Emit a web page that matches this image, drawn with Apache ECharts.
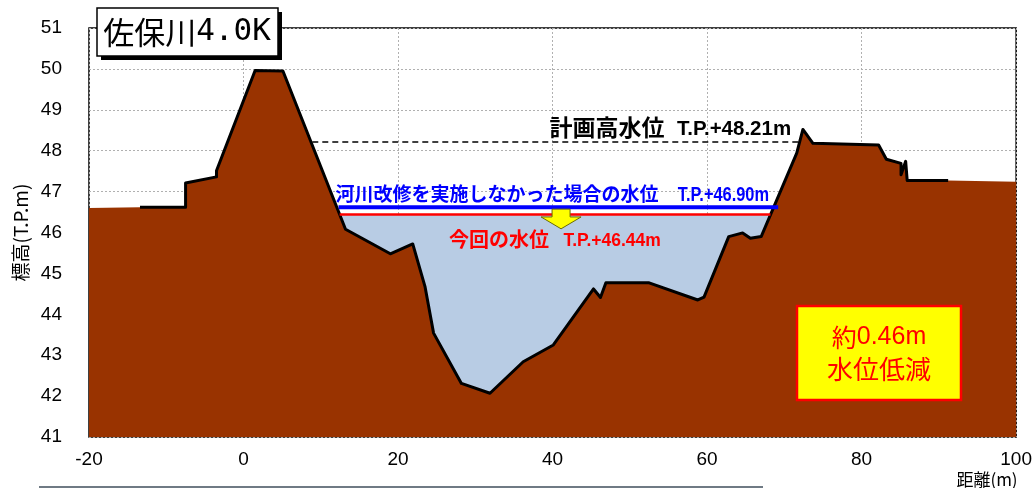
<!DOCTYPE html>
<html>
<head>
<meta charset="utf-8">
<script src="https://cdn.jsdelivr.net/npm/echarts@6/dist/echarts.min.js"></script>
<style>
  html, body { margin: 0; padding: 0; background: #fff; }
  #main { width: 1035px; height: 488px; }
</style>
</head>
<body>
<div id="main"></div>
<script>
// 横断面（距離, 標高）
const groundFill = [
  [-20, 46.60], [-13.4, 46.62], [-7.5, 46.62], [-7.5, 47.21], [-3.5, 47.36], [-3.5, 47.51],
  [1.5, 49.96], [5.1, 49.95], [13.2, 46.08], [19.0, 45.48], [21.9, 45.72], [23.5, 44.67],
  [24.6, 43.54], [28.2, 42.31], [31.9, 42.07], [36.2, 42.84], [40.1, 43.25], [45.3, 44.62],
  [46.2, 44.41], [46.9, 44.77], [52.5, 44.77], [58.8, 44.35], [59.6, 44.42], [62.8, 45.90],
  [64.6, 45.99], [65.6, 45.86], [67.0, 45.90], [71.6, 47.94], [72.4, 48.52], [72.6, 48.55],
  [73.7, 48.18], [82.2, 48.14], [83.2, 47.79], [85.1, 47.69], [85.1, 47.41], [85.7, 47.74],
  [85.9, 47.27], [91.2, 47.27], [91.2, 47.24], [100, 47.24]
];
// 黒い地盤線は -13.4m から 91.2m まで
const groundLine = groundFill.filter(p => p[0] >= -13.4 && p[0] <= 91.2 && !(p[0] === 91.2 && p[1] === 47.24));

const hwl = 48.21;         // 計画高水位
const hwlRange = [8.9, 72.2];
const noWorkLevel = 46.62; // 河川改修なしの水位（描画位置）
const noWorkRange = [12.3, 69.2];
const nowLevel = 46.44;    // 今回の水位
const nowRange = [12.44, 68.2];

const xTicks = { min: -20, max: 100, interval: 20 };
const yTicks = { min: 41, max: 51, interval: 1 };

const jp = '"Noto Sans CJK JP", "Liberation Sans", sans-serif';
const num = '"Liberation Sans", sans-serif';
const latin = '"Liberation Sans", sans-serif';

const chart = echarts.init(document.getElementById('main'));

const flat = (range, y) => range.map(x => [x, y]);

chart.setOption({
  animation: false,
  grid: {
    left: 89, right: 16, top: 28, bottom: 51,
    show: true, borderColor: '#000', borderWidth: 1.5, backgroundColor: '#fff'
  },
  xAxis: {
    type: 'value', min: xTicks.min, max: xTicks.max, interval: xTicks.interval,
    axisLine: { show: false }, axisTick: { show: false },
    axisLabel: { color: '#000', fontSize: 19, fontFamily: num, margin: 13 },
    splitLine: { show: true, lineStyle: { color: '#b0b0b0', type: [2, 2], width: 1 } }
  },
  yAxis: {
    type: 'value', min: yTicks.min, max: yTicks.max, interval: yTicks.interval,
    name: '標高(T.P.m)', nameLocation: 'middle', nameRotate: 90, nameGap: 58,
    nameTextStyle: { color: '#000', fontSize: 19, fontFamily: jp },
    axisLine: { show: false }, axisTick: { show: false },
    axisLabel: { color: '#000', fontSize: 19, fontFamily: num, margin: 27 },
    splitLine: { show: true, lineStyle: { color: '#b0b0b0', type: [2, 2], width: 1 } }
  },
  series: [
    {
      name: 'water', type: 'line', z: 1, symbol: 'none',
      data: flat(nowRange, nowLevel),
      lineStyle: { width: 0 },
      areaStyle: { color: '#b8cce4', opacity: 1, origin: 'start' }
    },
    {
      name: 'groundFill', type: 'line', z: 2, symbol: 'none',
      data: groundFill,
      lineStyle: { width: 0 },
      areaStyle: { color: '#993300', opacity: 1, origin: 'start' }
    },
    {
      name: 'groundLine', type: 'line', z: 3, symbol: 'none',
      data: groundLine,
      lineStyle: { color: '#000', width: 3, join: 'round' }
    },
    {
      name: 'now', type: 'line', z: 4, symbol: 'none',
      data: flat(nowRange, nowLevel),
      lineStyle: { color: '#ff0000', width: 2.5 }
    },
    {
      name: 'nowork', type: 'line', z: 4, symbol: 'none',
      data: flat(noWorkRange, noWorkLevel),
      lineStyle: { color: '#0000ff', width: 4 }
    },
    {
      name: 'hwl', type: 'line', z: 4, symbol: 'none',
      data: flat(hwlRange, hwl),
      lineStyle: { color: '#000', width: 1.5, type: [6, 4] }
    }
  ]
});

const px = (x, y) => chart.convertToPixel({ gridIndex: 0 }, [x, y]);

// ラベルの位置（データ座標で指定）
const hwlJp = px(54.5, 48.58);
const hwlLt = px(56.1, 48.52);
const noWorkJp = px(11.9, 46.94);
const noWorkLt = px(56.2, 46.90);
const nowJp = px(26.6, 45.84);
const nowLt = px(41.4, 45.80);
const arrowTop = px(41.1, noWorkLevel);
const arrowHead = px(41.1, 46.38);
const arrowTip = px(41.1, 46.09);
const cx = arrowTop[0];

function label(pos, text, opt) {
  return {
    type: 'text', x: pos[0], y: pos[1], z: 110,
    scaleX: opt.scaleX || 1,
    style: {
      text: text, align: opt.align || 'left', verticalAlign: 'middle',
      fontSize: opt.size, fontFamily: opt.font, fontWeight: 'bold', fill: opt.color
    }
  };
}

chart.setOption({
  graphic: [
    // タイトル枠
    { type: 'rect', shape: { x: 101, y: 12, width: 181, height: 48 }, style: { fill: '#000' }, z: 100 },
    { type: 'rect', shape: { x: 97, y: 8, width: 181, height: 48 }, style: { fill: '#fff', stroke: '#000', lineWidth: 1.5 }, z: 101 },
    {
      type: 'text', x: 187, y: 32, z: 102,
      style: {
        text: '{a|佐保川}{b|4.0K}', align: 'center', verticalAlign: 'middle',
        rich: {
          a: { fontSize: 31, fontFamily: jp, fill: '#000' },
          b: { fontSize: 31, fontFamily: '"DejaVu Sans Mono", monospace', fill: '#000' }
        }
      }
    },
    // 水位ラベル
    label(hwlJp, '計画高水位', { align: 'right', size: 23, font: jp, color: '#000' }),
    label(hwlLt, 'T.P.+48.21m', { size: 20.5, font: latin, color: '#000' }),
    label(noWorkJp, '河川改修を実施しなかった場合の水位', { size: 19, font: jp, color: '#0000ff' }),
    label(noWorkLt, 'T.P.+46.90m', { size: 20, font: latin, color: '#0000ff', scaleX: 0.82 }),
    label(nowJp, '今回の水位', { size: 20, font: jp, color: '#ff0000' }),
    label(nowLt, 'T.P.+46.44m', { size: 17.5, font: latin, color: '#ff0000' }),
    // 下向き矢印
    {
      type: 'polygon', z: 105,
      shape: {
        points: [
          [cx - 9, arrowTop[1] + 2], [cx + 9, arrowTop[1] + 2], [cx + 9, arrowHead[1]],
          [cx + 20, arrowHead[1]], [cx, arrowTip[1]], [cx - 20, arrowHead[1]], [cx - 9, arrowHead[1]]
        ]
      },
      style: { fill: '#ffff00', stroke: '#6b6b00', lineWidth: 1 }
    },
    // 低減量の枠
    { type: 'rect', shape: { x: 797, y: 306, width: 164, height: 94 }, style: { fill: '#ffff00', stroke: '#ff0000', lineWidth: 2.5 }, z: 110 },
    {
      type: 'text', x: 879, y: 337, z: 111,
      style: {
        text: '{j|約}{l|0.46m}', align: 'center', verticalAlign: 'middle',
        rich: {
          j: { fontSize: 25, fontFamily: jp, fill: '#ff0000' },
          l: { fontSize: 25, fontFamily: latin, fill: '#ff0000' }
        }
      }
    },
    {
      type: 'text', x: 879, y: 369, z: 111,
      style: { text: '水位低減', align: 'center', verticalAlign: 'middle', fontSize: 26, fontFamily: jp, fill: '#ff0000' }
    },
    // x軸名
    {
      type: 'text', x: 987, y: 480, z: 110,
      style: { text: '距離(m)', align: 'center', verticalAlign: 'middle', fontSize: 17, fontFamily: jp, fill: '#000' }
    },
    // 下端の切れ端
    { type: 'line', shape: { x1: 39, y1: 487, x2: 763, y2: 487 }, style: { stroke: '#6f7a84', lineWidth: 2 }, z: 90 }
  ]
});
</script>
</body>
</html>
